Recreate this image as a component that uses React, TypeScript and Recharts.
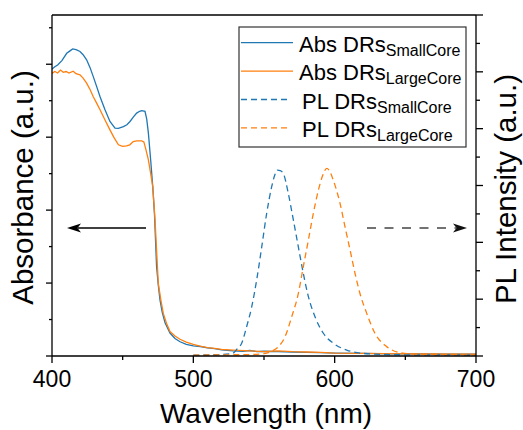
import React from 'react';
import { LineChart, Line, XAxis, YAxis } from 'recharts';

const FONT = '"Liberation Sans", Arial, sans-serif';
const BLUE = '#1f77b4';
const ORANGE = '#ff7f0e';

// Absorption spectra (left axis)
const absSmallWl = [400, 402, 404, 407, 410.4, 412.5, 414.6, 417, 419.8, 422, 424.5, 427, 429.2, 431.5, 434, 437.5, 441, 444.6, 447, 450.5, 453, 455.2, 457.5, 459.9, 462, 463.5, 465.8, 467, 468.2, 469.8, 471.3, 472.5, 474, 475.2, 476.4, 478, 480, 483.5, 487, 490.6, 495, 500, 505, 510, 515, 520, 528, 535, 540, 545, 550, 560, 570, 580, 590, 600, 620, 640, 660, 680, 700];
const absSmallVal = [7.87, 7.93, 7.98, 8.1, 8.3, 8.36, 8.42, 8.4, 8.35, 8.26, 8.12, 7.9, 7.66, 7.4, 7.11, 6.75, 6.43, 6.25, 6.24, 6.29, 6.34, 6.43, 6.55, 6.66, 6.71, 6.73, 6.71, 6.5, 6.11, 5.38, 4.64, 3.9, 2.45, 1.95, 1.54, 1.2, 0.91, 0.63, 0.48, 0.39, 0.32, 0.28, 0.26, 0.22, 0.2, 0.17, 0.14, 0.13, 0.15, 0.12, 0.13, 0.12, 0.11, 0.1, 0.09, 0.08, 0.07, 0.06, 0.06, 0.05, 0.05];

const absLargeWl = [400, 402, 404, 406, 408, 410, 412, 415, 417, 419.8, 422, 424.5, 427, 429.2, 431.5, 434, 437.5, 441, 444, 447, 450, 452.8, 455, 457.5, 460, 463.5, 465, 466.5, 468.2, 470, 471.3, 472.9, 474, 475.2, 477, 478.8, 481, 483.5, 487, 490.6, 495, 500, 504.7, 510, 515, 520, 528, 540, 550, 560, 570, 580, 590, 600, 620, 650, 700];
const absLargeVal = [7.75, 7.8, 7.76, 7.84, 7.78, 7.8, 7.76, 7.81, 7.74, 7.71, 7.62, 7.48, 7.3, 7.11, 6.94, 6.75, 6.47, 6.2, 5.98, 5.79, 5.75, 5.76, 5.79, 5.88, 5.9, 5.9, 5.87, 5.65, 5.38, 4.96, 4.64, 3.73, 2.9, 1.99, 1.54, 1.16, 0.9, 0.67, 0.55, 0.46, 0.38, 0.32, 0.27, 0.23, 0.21, 0.18, 0.16, 0.14, 0.12, 0.14, 0.12, 0.11, 0.1, 0.08, 0.07, 0.06, 0.05];

// Photoluminescence spectra (right axis)
const plSmallWl = [500, 510, 520, 528, 531, 534.2, 537.7, 541.3, 544.8, 548.4, 551.9, 555.4, 557.5, 559.4, 561.5, 563.7, 567.2, 570.8, 574.3, 577.8, 581.4, 586.1, 592, 599, 608.5, 620.3, 640, 660, 680, 700];
const plSmallVal = [0.03, 0.04, 0.05, 0.1, 0.25, 0.45, 1.03, 1.73, 2.67, 3.84, 5.02, 5.95, 6.35, 6.54, 6.52, 6.42, 5.72, 4.78, 3.84, 2.91, 2.09, 1.38, 0.8, 0.45, 0.21, 0.09, 0.05, 0.04, 0.04, 0.03];

const plLargeWl = [500, 520, 540, 550, 556, 560.2, 564.9, 569.6, 574.3, 577.8, 581.4, 584.9, 588.5, 591.5, 594.4, 596.5, 599, 603.8, 607.3, 610.9, 614.4, 617.9, 622.7, 628.5, 636.8, 646.2, 660, 680, 700];
const plLargeVal = [0.03, 0.04, 0.05, 0.08, 0.18, 0.33, 0.68, 1.38, 2.2, 3.14, 4.08, 5.02, 5.84, 6.35, 6.6, 6.5, 6.19, 5.37, 4.55, 3.73, 2.91, 2.2, 1.5, 0.8, 0.33, 0.12, 0.06, 0.05, 0.04];

const xTicks = [400, 450, 500, 550, 600, 650, 700];
const leftTicks = [0, 1, 2, 3, 4, 5, 6, 7, 8, 9];
const rightTicks = [0, 1, 2, 3, 4, 5, 6, 7, 8, 9, 10, 11, 12];

const zip = (xs: number[], ys: number[]) => xs.map((x, i) => ({ x, y: ys[i] }));

const BottomTick = (props: any) => {
  const { x, y, payload } = props;
  const major = payload.value % 100 === 0;
  return (
    <g>
      <line x1={x} x2={x} y1={y} y2={y + (major ? 7 : 4)} stroke="#000" strokeWidth={1.3} />
      {major && (
        <text x={x} y={y + 31} textAnchor="middle" fontSize={23} fontFamily={FONT} fill="#000">
          {payload.value}
        </text>
      )}
    </g>
  );
};

const TopTick = (props: any) => {
  const { x, y, payload } = props;
  if (payload.value === 400 || payload.value === 700) return <g />;
  const major = payload.value % 100 === 0;
  return <line x1={x} x2={x} y1={y} y2={y + (major ? 7 : 4)} stroke="#000" strokeWidth={1.3} />;
};

const LeftTick = (props: any) => {
  const { x, y, payload } = props;
  const major = payload.value % 2 === 0;
  return <line x1={x - (major ? 6 : 3)} x2={x} y1={y} y2={y} stroke="#000" strokeWidth={1.3} />;
};

const RightTick = (props: any) => {
  const { x, y, payload } = props;
  const major = payload.value % 2 === 0;
  return <line x1={x} x2={x + (major ? 7 : 4)} y1={y} y2={y} stroke="#000" strokeWidth={1.3} />;
};

const legendRows = [
  { main: 'Abs DRs', sub: 'SmallCore', color: BLUE, dashed: false },
  { main: 'Abs DRs', sub: 'LargeCore', color: ORANGE, dashed: false },
  { main: 'PL DRs', sub: 'SmallCore', color: BLUE, dashed: true },
  { main: 'PL DRs', sub: 'LargeCore', color: ORANGE, dashed: true },
];

const axisLine = { stroke: '#000', strokeWidth: 1.3 };

export default function App() {
  return (
    <div style={{ position: 'absolute', left: 0, top: 0, width: 523, height: 430, background: '#fff' }}>
      <LineChart width={523} height={430} margin={{ top: 14, right: 46, bottom: 73, left: 51 }}>
        <XAxis
          xAxisId="b"
          dataKey="x"
          type="number"
          domain={[400, 700]}
          ticks={xTicks}
          interval={0}
          height={1}
          tickSize={0}
          tickMargin={0}
          tick={<BottomTick />}
          tickLine={false}
          axisLine={axisLine}
          allowDataOverflow
        />
        <XAxis
          xAxisId="t"
          orientation="top"
          dataKey="x"
          type="number"
          domain={[400, 700]}
          ticks={xTicks}
          interval={0}
          height={1}
          tickSize={0}
          tickMargin={0}
          tick={<TopTick />}
          tickLine={false}
          axisLine={axisLine}
        />
        <YAxis
          yAxisId="abs"
          type="number"
          domain={[0, 9.35]}
          ticks={leftTicks}
          interval={0}
          width={1}
          tickSize={0}
          tickMargin={0}
          tick={<LeftTick />}
          tickLine={false}
          axisLine={axisLine}
          allowDataOverflow
        />
        <YAxis
          yAxisId="pl"
          orientation="right"
          type="number"
          domain={[0, 12]}
          ticks={rightTicks}
          interval={0}
          width={1}
          tickSize={0}
          tickMargin={0}
          tick={<RightTick />}
          tickLine={false}
          axisLine={axisLine}
          allowDataOverflow
        />
        <Line xAxisId="b" yAxisId="abs" data={zip(absSmallWl, absSmallVal)} dataKey="y" type="linear"
          stroke={BLUE} strokeWidth={1.3} dot={false} isAnimationActive={false} />
        <Line xAxisId="b" yAxisId="abs" data={zip(absLargeWl, absLargeVal)} dataKey="y" type="linear"
          stroke={ORANGE} strokeWidth={1.3} dot={false} isAnimationActive={false} />
        <Line xAxisId="b" yAxisId="pl" data={zip(plSmallWl, plSmallVal)} dataKey="y" type="monotone"
          stroke={BLUE} strokeWidth={1.3} strokeDasharray="6 4" dot={false} isAnimationActive={false} />
        <Line xAxisId="b" yAxisId="pl" data={zip(plLargeWl, plLargeVal)} dataKey="y" type="monotone"
          stroke={ORANGE} strokeWidth={1.3} strokeDasharray="6 4" dot={false} isAnimationActive={false} />
      </LineChart>

      <svg width={523} height={430} style={{ position: 'absolute', left: 0, top: 0, pointerEvents: 'none' }}>
        {/* legend */}
        <rect x={239} y={27} width={227} height={120} fill="#fff" stroke="#333" strokeWidth={1.2} />
        {legendRows.map((r, i) => {
          const cy = 42.7 + i * 28.4;
          return (
            <g key={i}>
              <line x1={241} x2={r.dashed ? 288 : 293} y1={cy} y2={cy} stroke={r.color} strokeWidth={1.3}
                strokeDasharray={r.dashed ? '6 4' : undefined} />
              <text x={r.dashed ? 302 : 299} y={cy + 9} fontSize={22} fontFamily={FONT} fill="#000">
                {r.main}
                <tspan fontSize={16} dy={4}>{r.sub}</tspan>
              </text>
            </g>
          );
        })}
        {/* arrows */}
        <line x1={146} x2={78} y1={228} y2={228} stroke="#000" strokeWidth={1.3} />
        <polygon points="67,228 81,223.5 77.5,228 81,232.5" fill="#000" />
        <line x1={367} x2={456} y1={228} y2={228} stroke="#444" strokeWidth={1.5} strokeDasharray="9 8.5" />
        <polygon points="467,228 453,223.5 456.5,228 453,232.5" fill="#111" />
        {/* axis titles */}
        <text x={266} y={423} textAnchor="middle" fontSize={28} fontFamily={FONT} fill="#000">
          Wavelength (nm)
        </text>
        <text x={33} y={187.5} textAnchor="middle" fontSize={29.5} fontFamily={FONT} fill="#000"
          transform="rotate(-90 33 187.5)">
          Absorbance (a.u.)
        </text>
        <text x={516} y={189} textAnchor="middle" fontSize={29.5} fontFamily={FONT} fill="#000"
          transform="rotate(-90 516 189)">
          PL Intensity (a.u.)
        </text>
      </svg>
    </div>
  );
}
